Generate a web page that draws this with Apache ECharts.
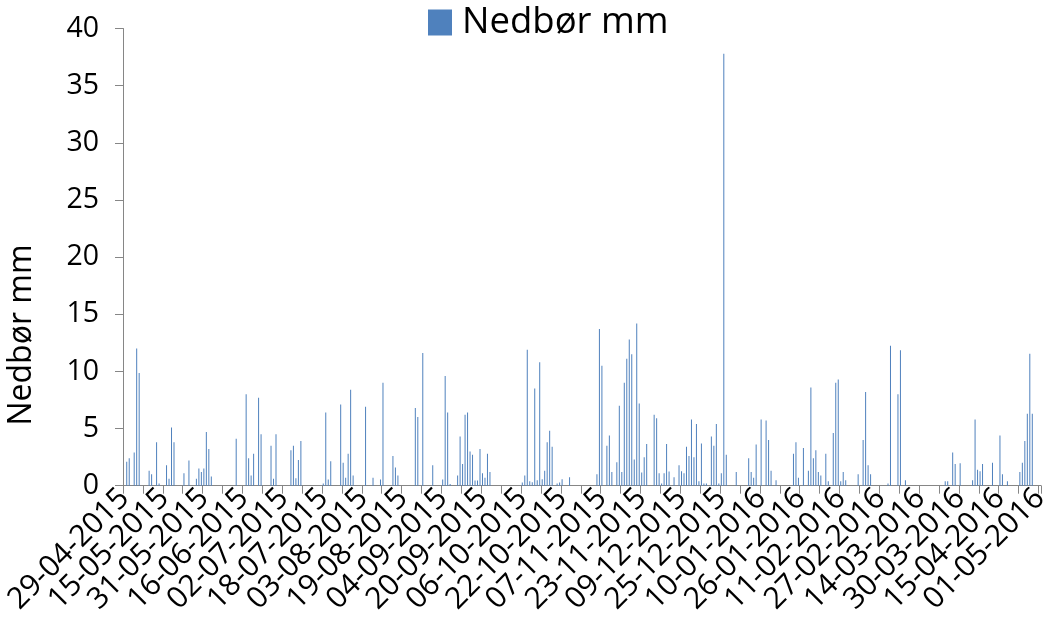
<!DOCTYPE html>
<html>
<head>
<meta charset="utf-8">
<script src="https://cdn.jsdelivr.net/npm/echarts@6/dist/echarts.min.js"></script>
<style>
html,body{margin:0;padding:0;background:#fff;}
#chart{width:1043px;height:628px;}
</style>
</head>
<body>
<div id="chart"></div>
<script>
// Daily dates 29-04-2015 .. 01-05-2016
const startDate = [2015, 4, 29];
const dayCount = 369;
const labelEvery = 16;
const seriesName = 'Nedbør mm';
const yTicks = [0, 5, 10, 15, 20, 25, 30, 35, 40];
const rain = [
  0, 2.1, 2.4, 0, 2.9, 12.0, 9.85, 0, 0, 0,
  1.3, 1.0, 0, 3.8, 0.2, 0, 0, 1.8, 0.6, 5.1,
  3.8, 0, 0, 0, 1.1, 0, 2.2, 0, 0, 0.6,
  1.5, 1.2, 1.5, 4.7, 3.2, 0.8, 0, 0, 0, 0,
  0, 0, 0, 0, 0, 4.1, 0, 0, 0, 8.0,
  2.4, 0.9, 2.8, 0, 7.7, 4.5, 0, 0, 0, 3.5,
  0.6, 4.5, 0, 0, 0, 0, 0, 3.1, 3.5, 0.65,
  2.25, 3.9, 0, 0, 0, 0, 0, 0, 0, 0,
  0.2, 6.4, 0.55, 2.15, 0, 0, 0, 7.1, 2.0, 0.7,
  2.8, 8.4, 0.9, 0, 0, 0, 0, 6.9, 0, 0,
  0.7, 0, 0, 0.55, 9.0, 0, 0, 0, 2.6, 1.6,
  0.9, 0, 0, 0, 0, 0, 0, 6.8, 6.0, 0,
  11.6, 0, 0, 0, 1.8, 0, 0, 0, 0.55, 9.6,
  6.4, 0.15, 0, 0, 0.9, 4.3, 1.9, 6.2, 6.4, 3.0,
  2.7, 0.45, 0.45, 3.2, 1.1, 0.7, 2.8, 1.2, 0, 0,
  0, 0, 0, 0, 0, 0, 0, 0, 0, 0,
  0.27, 0.9, 11.9, 0.4, 0.3, 8.5, 0.47, 10.8, 0.56, 1.3,
  3.8, 4.8, 3.4, 0, 0.2, 0.27, 0.56, 0, 0, 0.73,
  0, 0, 0, 0, 0, 0, 0, 0, 0, 0,
  1.0, 13.7, 10.5, 0, 3.5, 4.4, 1.2, 0, 2.05, 7.0,
  1.2, 9.0, 11.1, 12.8, 11.5, 2.3, 14.2, 7.2, 1.15, 2.5,
  3.65, 0, 0, 6.2, 5.9, 1.1, 0.2, 1.1, 3.65, 1.25,
  0, 0.75, 0, 1.8, 1.26, 1.1, 3.4, 2.6, 5.8, 2.5,
  5.4, 0.4, 3.7, 0.2, 0.2, 0, 4.3, 3.5, 5.4, 0.2,
  1.1, 37.8, 2.7, 0, 0, 0, 1.2, 0, 0, 0,
  0, 2.4, 1.2, 0.7, 3.6, 0, 5.8, 0, 5.7, 4.0,
  1.3, 0, 0.47, 0, 0, 0, 0, 0, 0, 2.8,
  3.8, 0.7, 0, 3.3, 0, 1.3, 8.6, 2.4, 3.1, 1.2,
  0.9, 0, 2.8, 0.4, 0, 4.6, 9.0, 9.3, 0.4, 1.2,
  0.47, 0, 0, 0, 0, 1.0, 0, 4.0, 8.2, 1.8,
  1.0, 0, 0, 0, 0, 0, 0, 0.2, 12.25, 0,
  0, 8.0, 11.85, 0, 0.47, 0, 0, 0, 0, 0,
  0, 0, 0, 0, 0, 0, 0, 0, 0, 0,
  0.4, 0.4, 0, 2.9, 1.9, 0, 1.96, 0, 0, 0,
  0, 0.47, 5.8, 1.4, 1.26, 1.9, 0, 0, 0, 2.0,
  0, 0, 4.4, 1.0, 0, 0.4, 0, 0, 0, 0,
  1.2, 2.0, 3.9, 6.3, 11.55, 6.3, 0, 0, 0
];

function pad(n){ return (n < 10 ? '0' : '') + n; }
const dates = [];
for (let i = 0; i < dayCount; i++) {
  const d = new Date(Date.UTC(startDate[0], startDate[1] - 1, startDate[2] + i));
  dates.push(pad(d.getUTCDate()) + '-' + pad(d.getUTCMonth() + 1) + '-' + d.getUTCFullYear());
}

const FONT = '"Open Sans", "Noto Sans", sans-serif';
const chart = echarts.init(document.getElementById('chart'), null, {renderer: 'canvas'});
chart.setOption({
  animation: false,
  backgroundColor: '#ffffff',
  grid: {left: 123, right: 2, top: 28.5, bottom: 142.3, containLabel: false, outerBoundsMode: 'none'},
  legend: {
    data: [seriesName],
    left: 428, top: 4, padding: 0,
    icon: 'rect', itemWidth: 24, itemHeight: 26, itemGap: 10,
    textStyle: {fontFamily: FONT, fontSize: 36.5, color: '#000', padding: [0, 0, 0, 5]}
  },
  xAxis: {
    type: 'category',
    data: dates,
    boundaryGap: true,
    axisLine: {lineStyle: {color: '#868686', width: 1}},
    axisTick: {show: true, interval: 7, length: 8, lineStyle: {color: '#868686'}},
    axisLabel: {
      interval: 0, rotate: 45, margin: 8, fontFamily: FONT, fontSize: 30,
      color: '#000', hideOverlap: false,
      formatter: function (value, index) { return index % labelEvery === 0 ? value : ''; }
    },
    splitLine: {show: false}
  },
  yAxis: {
    type: 'value',
    min: yTicks[0], max: yTicks[yTicks.length - 1], interval: 5,
    axisLine: {show: true, lineStyle: {color: '#868686', width: 1}},
    axisTick: {show: true, length: 8, lineStyle: {color: '#868686'}},
    axisLabel: {margin: 24, fontFamily: FONT, fontSize: 28.5, color: '#000'},
    splitLine: {show: false}
  },
  graphic: [{
    type: 'text',
    x: 22, y: 335,
    rotation: Math.PI / 2,
    style: {text: 'Nedbør mm', fontFamily: FONT, fontSize: 32, fill: '#000', align: 'center', verticalAlign: 'middle'}
  }],
  series: [{
    name: seriesName,
    type: 'bar',
    data: rain,
    barWidth: 1,
    itemStyle: {color: '#4F81BD'}
  }]
});
</script>
</body>
</html>
